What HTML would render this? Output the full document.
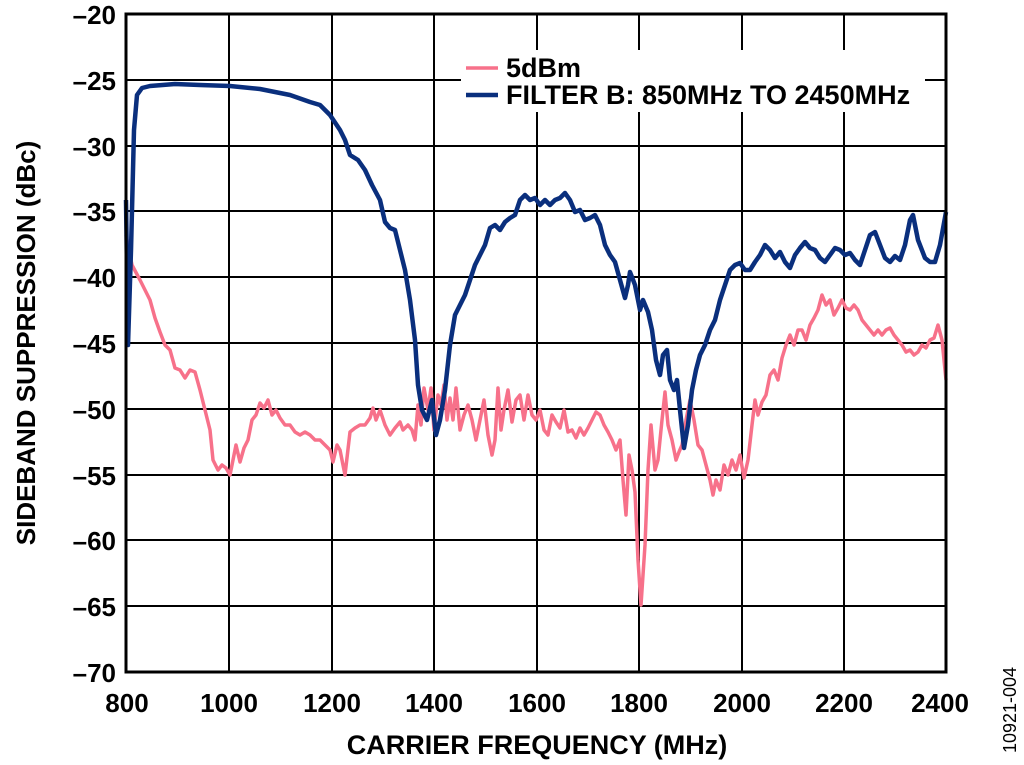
<!DOCTYPE html>
<html><head><meta charset="utf-8"><style>
html,body{margin:0;padding:0;background:#fff;width:1024px;height:765px;overflow:hidden}
text{font-family:"Liberation Sans",Arial,sans-serif;font-weight:bold;fill:#000}
</style></head><body>
<svg width="1024" height="765" viewBox="0 0 1024 765" xmlns="http://www.w3.org/2000/svg">
<g stroke="#000" stroke-width="2">
<line x1="229" y1="14" x2="229" y2="672"/><line x1="332" y1="14" x2="332" y2="672"/>
<line x1="434" y1="14" x2="434" y2="672"/><line x1="537" y1="14" x2="537" y2="672"/>
<line x1="639" y1="14" x2="639" y2="672"/><line x1="742" y1="14" x2="742" y2="672"/>
<line x1="844" y1="14" x2="844" y2="672"/>
<line x1="126" y1="80" x2="946" y2="80"/><line x1="126" y1="146" x2="946" y2="146"/>
<line x1="126" y1="211" x2="946" y2="211"/><line x1="126" y1="277" x2="946" y2="277"/>
<line x1="126" y1="343" x2="946" y2="343"/><line x1="126" y1="409" x2="946" y2="409"/>
<line x1="126" y1="475" x2="946" y2="475"/><line x1="126" y1="540" x2="946" y2="540"/>
<line x1="126" y1="606" x2="946" y2="606"/>
</g>
<rect x="461" y="50" width="464" height="62" fill="#fff"/>
<polyline fill="none" stroke="#f7718a" stroke-width="3.5" stroke-linejoin="round" points="126,235 132,265 140,280 145,290 150,300 155,318 160,332 165,345 170,350 175,368 180,370 185,378 190,370 195,372 200,390 205,410 210,430 213,460 218,470 222,465 226,468 230,475 233,460 236,445 240,462 244,448 248,440 252,420 256,415 260,403 264,408 268,400 272,415 276,410 280,418 285,425 290,425 295,432 300,435 305,432 310,435 315,440 320,440 325,445 330,450 333,462 337,445 340,450 345,475 350,432 355,428 360,425 365,425 370,418 373,408 376,420 380,410 385,425 390,435 395,428 400,422 403,430 408,425 412,430 415,440 418,405 421,425 424,388 428,410 431,388 434,430 438,395 441,405 444,385 447,420 450,398 453,420 456,388 460,430 464,415 468,405 472,420 476,440 480,420 484,400 488,435 492,455 495,440 498,388 501,430 504,410 508,390 512,422 516,400 520,395 524,420 528,395 532,415 536,420 540,410 544,430 548,435 552,415 556,422 560,428 564,410 568,432 572,430 576,438 580,428 584,435 588,428 592,420 596,412 600,415 604,425 608,432 612,440 616,450 620,440 623,480 626,515 629,455 632,470 635,492 638,560 641,605 645,545 648,470 651,425 655,470 658,460 662,420 665,392 668,425 672,440 676,460 679,452 682,445 686,420 690,400 694,420 698,445 702,450 706,465 710,480 713,495 716,480 720,490 724,465 728,475 732,460 736,470 740,455 744,478 748,460 752,425 755,400 758,415 762,402 766,395 770,375 774,370 778,380 782,358 786,345 790,335 794,345 798,330 802,330 806,340 810,325 814,318 818,310 822,295 826,305 830,300 834,315 838,308 842,300 846,308 850,310 854,305 858,310 862,320 866,325 870,330 874,335 878,330 882,335 886,330 890,328 894,335 898,340 902,345 906,352 910,350 914,355 918,352 922,345 926,348 930,340 934,338 938,325 942,340 946,380"/>
<polyline fill="none" stroke="#0a2f7d" stroke-width="4.5" stroke-linejoin="round" points="126,200 128,345 131,250 134,130 137,95 142,88 150,86 175,84 200,85 230,86 260,89 290,95 310,102 320,105 330,115 340,130 345,140 350,155 358,160 365,170 372,185 380,200 385,222 390,228 395,230 400,250 405,270 410,300 415,340 418,385 422,410 427,420 432,400 436,435 440,420 445,390 450,345 455,315 460,305 465,295 470,280 475,265 480,255 485,245 490,228 495,225 500,230 505,222 510,218 515,215 520,200 525,195 530,200 535,198 540,205 545,200 550,205 555,200 560,198 565,193 570,200 575,212 580,210 585,220 590,218 595,215 600,225 605,245 610,255 615,262 620,280 625,298 628,285 630,272 635,285 640,310 643,300 648,312 652,330 656,360 660,375 663,355 667,350 670,380 674,390 677,380 680,410 684,448 688,425 692,390 696,370 700,355 705,345 710,330 715,320 720,300 725,285 730,270 735,265 740,263 745,270 750,270 755,262 760,255 765,245 770,250 775,258 780,252 785,262 790,268 795,255 800,248 805,242 810,248 815,250 820,258 825,262 830,255 835,248 840,250 845,255 850,253 855,260 860,265 865,250 870,235 875,232 880,245 885,258 890,262 895,256 900,260 905,245 910,220 913,215 918,240 925,258 930,262 935,262 940,245 946,212"/>
<rect x="126" y="14" width="820" height="658" fill="none" stroke="#000" stroke-width="3"/>
<line x1="466" y1="68" x2="498" y2="68" stroke="#f7718a" stroke-width="3.5"/>
<line x1="466" y1="95" x2="498" y2="95" stroke="#0a2f7d" stroke-width="4.5"/>
<text x="506" y="77" font-size="27">5dBm</text>
<text x="506" y="104" font-size="27">FILTER B: 850MHz TO 2450MHz</text>
<g font-size="26" text-anchor="end">
<text x="116" y="24">–20</text><text x="116" y="90">–25</text><text x="116" y="156">–30</text>
<text x="116" y="221">–35</text><text x="116" y="287">–40</text><text x="116" y="353">–45</text>
<text x="116" y="419">–50</text><text x="116" y="485">–55</text><text x="116" y="550">–60</text>
<text x="116" y="616">–65</text><text x="116" y="682">–70</text>
</g>
<g font-size="26" text-anchor="middle">
<text x="127" y="712">800</text><text x="229" y="712">1000</text><text x="332" y="712">1200</text>
<text x="434" y="712">1400</text><text x="537" y="712">1600</text><text x="639" y="712">1800</text>
<text x="742" y="712">2000</text><text x="844" y="712">2200</text><text x="940" y="712">2400</text>
</g>
<text x="537" y="754" font-size="27" text-anchor="middle">CARRIER FREQUENCY (MHz)</text>
<text transform="translate(35,343) rotate(-90)" font-size="26" text-anchor="middle">SIDEBAND SUPPRESSION (dBc)</text>
<text transform="translate(1016,710) rotate(-90)" font-size="18" style="font-weight:normal" text-anchor="middle">10921-004</text>
</svg>
</body></html>
